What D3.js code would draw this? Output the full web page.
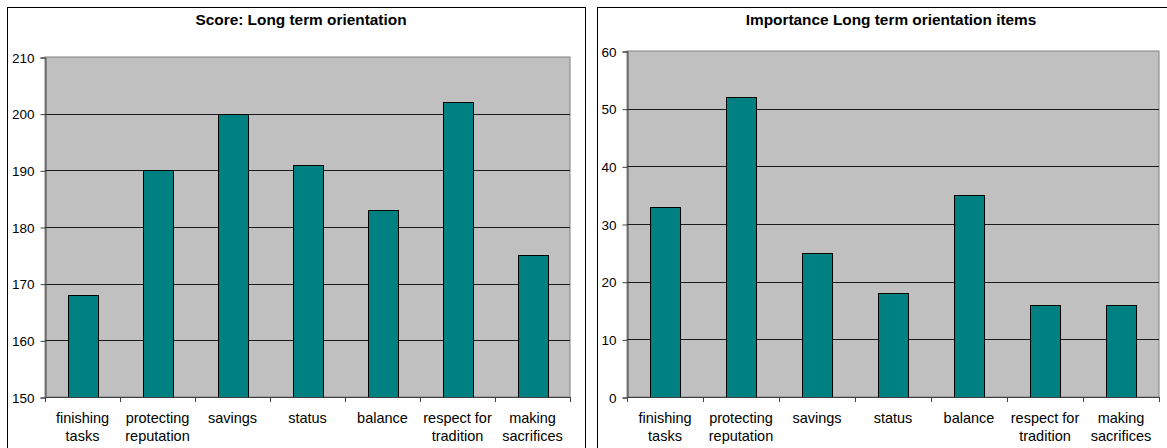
<!DOCTYPE html>
<html>
<head>
<meta charset="utf-8">
<script src="https://cdn.jsdelivr.net/npm/d3@7"></script>
<style>
  html, body { margin: 0; padding: 0; background: #fff; }
  svg text { font-family: Arial, "Liberation Sans", sans-serif; fill: #000; }
</style>
</head>
<body>
<svg id="chart" width="1167" height="448"></svg>
<script>
// Item labels (two lines each)
const categories = [
  ["finishing", "tasks"],
  ["protecting", "reputation"],
  ["savings", ""],
  ["status", ""],
  ["balance", ""],
  ["respect for", "tradition"],
  ["making", "sacrifices"]
];
const scoreValues = [168, 190, 200, 191, 183, 202, 175];
const importanceValues = [33, 52, 25, 18, 35, 16, 16];
const scoreTicks = [150, 160, 170, 180, 190, 200, 210];
const importanceTicks = [0, 10, 20, 30, 40, 50, 60];

const svg = d3.select("#chart");

function panel(cfg) {
  const g = svg.append("g");
  // outer frame
  g.append("rect")
    .attr("x", cfg.frame[0] + 0.5).attr("y", cfg.frame[1] + 0.5)
    .attr("width", cfg.frame[2]).attr("height", cfg.frame[3])
    .attr("fill", "#fff").attr("stroke", "#000").attr("stroke-width", 1);

  g.append("text")
    .attr("transform", `translate(${cfg.titleX},25) scale(1.1,1)`)
    .attr("text-anchor", "middle")
    .style("font-size", "14px").style("font-weight", "bold")
    .text(cfg.title);

  const x = d3.scaleBand()
    .domain(d3.range(categories.length))
    .range([cfg.left, cfg.right])
    .paddingInner(0.6).paddingOuter(0.3);
  const y = d3.scaleLinear()
    .domain(cfg.domain)
    .range([cfg.bottom, cfg.top]);

  // plot area
  g.append("rect")
    .attr("x", cfg.left).attr("y", cfg.top)
    .attr("width", cfg.right - cfg.left).attr("height", cfg.bottom - cfg.top)
    .attr("fill", "#c0c0c0").attr("stroke", "#808080").attr("stroke-width", 1);

  // gridlines
  g.append("g").selectAll("line")
    .data(cfg.ticks.slice(1, -1))
    .join("line")
    .attr("x1", cfg.left).attr("x2", cfg.right)
    .attr("y1", d => Math.round(y(d)) + 0.5).attr("y2", d => Math.round(y(d)) + 0.5)
    .attr("stroke", "#1a1a1a").attr("stroke-width", 1);

  // bars
  g.append("g").selectAll("rect")
    .data(cfg.values)
    .join("rect")
    .attr("x", (d, i) => Math.round(x(i)) + 0.5)
    .attr("y", d => Math.round(y(d)) + 0.5)
    .attr("width", Math.round(x.bandwidth()))
    .attr("height", d => cfg.bottom - Math.round(y(d)))
    .attr("fill", "#008080").attr("stroke", "#000").attr("stroke-width", 1);

  // y axis
  const yAxis = d3.axisLeft(y).tickValues(cfg.ticks).tickSize(5).tickPadding(6).tickFormat(d3.format("d"));
  const ya = g.append("g").attr("transform", `translate(${cfg.left + 0.5},0.5)`).call(yAxis);
  ya.select(".domain").attr("stroke", "#404040");
  ya.selectAll(".tick line").attr("stroke", "#404040");
  ya.selectAll("text").style("font-size", "13.5px").attr("dy", "0.35em");

  // x axis with ticks at category boundaries
  const bounds = d3.range(categories.length + 1).map(i => cfg.left + i * (cfg.right - cfg.left) / categories.length);
  g.append("line")
    .attr("x1", cfg.left).attr("x2", cfg.right)
    .attr("y1", cfg.bottom + 0.5).attr("y2", cfg.bottom + 0.5)
    .attr("stroke", "#404040");
  g.append("g").selectAll("line")
    .data(bounds)
    .join("line")
    .attr("x1", d => Math.round(d) + 0.5).attr("x2", d => Math.round(d) + 0.5)
    .attr("y1", cfg.bottom).attr("y2", cfg.bottom + 5)
    .attr("stroke", "#404040");

  const labels = g.append("g").selectAll("text")
    .data(categories)
    .join("text")
    .attr("text-anchor", "middle")
    .style("font-size", "14.5px")
    .attr("transform", (d, i) => `translate(${x(i) + x.bandwidth() / 2},0)`);
  labels.append("tspan").attr("x", 0).attr("y", cfg.bottom + 26).text(d => d[0]);
  labels.append("tspan").attr("x", 0).attr("y", cfg.bottom + 44).text(d => d[1]);
}

panel({
  frame: [7, 7, 578, 460],
  title: "Score: Long term orientation",
  titleX: 301,
  left: 45, right: 570, top: 57, bottom: 397,
  domain: [150, 210],
  ticks: scoreTicks,
  values: scoreValues
});

panel({
  frame: [597, 7, 580, 460],
  title: "Importance Long term orientation items",
  titleX: 891,
  left: 627, right: 1159, top: 51, bottom: 397,
  domain: [0, 60],
  ticks: importanceTicks,
  values: importanceValues
});
</script>
</body>
</html>
